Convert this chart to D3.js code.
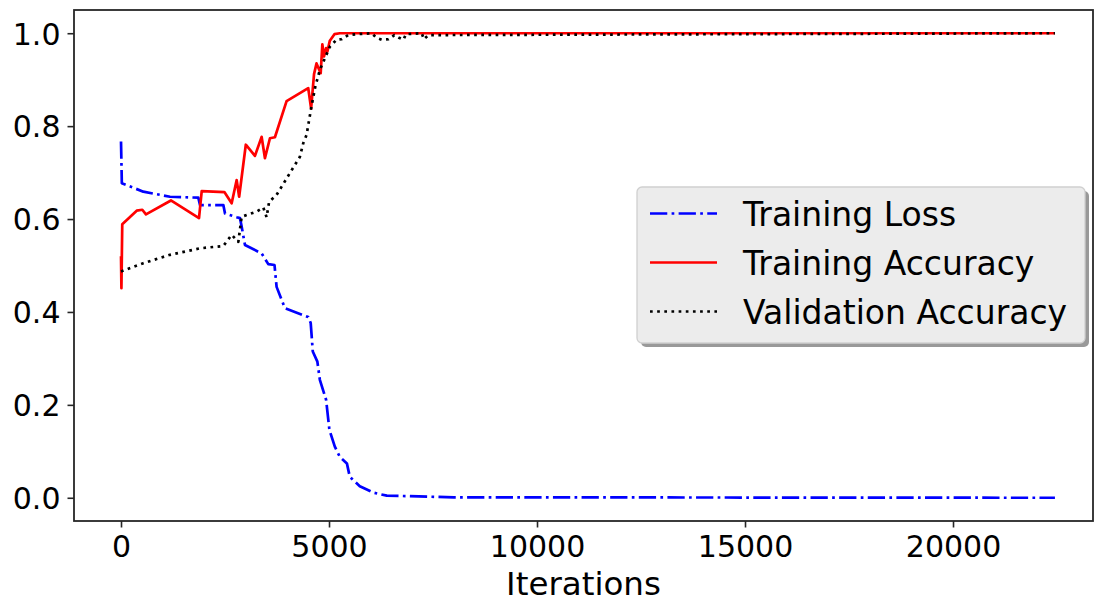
<!DOCTYPE html>
<html><head><meta charset="utf-8">
<script src="https://cdn.jsdelivr.net/npm/d3@7"></script>
<style>body{margin:0;background:#fff}svg{display:block}text{font-family:"DejaVu Sans",sans-serif}</style>
</head><body>
<script>
const seriesNames = ["Training Loss", "Training Accuracy", "Validation Accuracy"];
const lossIter = [0, 20, 536, 1178, 1858, 1900, 2460, 2500, 2780, 2860, 2900, 2980, 3380, 3540, 3690, 3740, 3940, 4500, 4560, 4610, 4720, 4780, 4930, 5010, 5140, 5260, 5430, 5500, 5740, 6070, 6390, 6710, 8000, 22450];
const lossVal = [0.767, 0.677, 0.659, 0.648, 0.646, 0.630, 0.630, 0.612, 0.604, 0.602, 0.584, 0.544, 0.526, 0.503, 0.501, 0.454, 0.408, 0.389, 0.376, 0.315, 0.293, 0.254, 0.211, 0.146, 0.110, 0.088, 0.074, 0.045, 0.025, 0.011, 0.0045, 0.004, 0.001, 0.0];
const accIter = [0, 10, 30, 377, 512, 600, 1200, 1875, 1940, 2485, 2660, 2780, 2840, 3000, 3220, 3380, 3460, 3580, 3700, 3980, 4500, 4570, 4640, 4700, 4800, 4840, 4880, 4930, 4960, 5020, 5130, 5260, 22450];
const accVal = [0.52, 0.451, 0.589, 0.618, 0.620, 0.610, 0.640, 0.602, 0.660, 0.658, 0.634, 0.684, 0.648, 0.760, 0.736, 0.777, 0.731, 0.774, 0.776, 0.854, 0.882, 0.838, 0.912, 0.935, 0.914, 0.976, 0.950, 0.968, 0.960, 0.984, 0.998, 1.0, 1.0];
const valIter = [0, 536, 1178, 1900, 2460, 2660, 2820, 2900, 3260, 3420, 3500, 3560, 3740, 4060, 4300, 4380, 4460, 4570, 4670, 4780, 4900, 5020, 5180, 5300, 5460, 5660, 6030, 6130, 6270, 6430, 6570, 6670, 6790, 6850, 7230, 7280, 7390, 22450];
const valVal = [0.487, 0.505, 0.523, 0.537, 0.542, 0.566, 0.551, 0.605, 0.616, 0.625, 0.604, 0.637, 0.652, 0.699, 0.734, 0.763, 0.781, 0.838, 0.885, 0.921, 0.946, 0.971, 0.986, 0.987, 0.996, 0.998, 1.0, 0.991, 0.986, 0.987, 0.996, 0.991, 0.986, 0.998, 1.0, 0.987, 0.996, 1.0];
const xTicks = [0, 5000, 10000, 15000, 20000];
const yTicks = [0.0, 0.2, 0.4, 0.6, 0.8, 1.0];
const xLabel = "Iterations";

const W = 1094, H = 602;
const L = 74, R = 1093, T = 10, B = 521;
const svg = d3.select("body").append("svg").attr("width", W).attr("height", H);
const x = d3.scaleLinear().domain([-1130, 23365]).range([L, R]);
const y = d3.scaleLinear().domain([-0.05, 1.05]).range([B, T]);

const lw = 2.7;
const styles = [
  {color: "#0000ff", dash: [6.4*lw, 1.6*lw, 1*lw, 1.6*lw].join(",")},
  {color: "#ff0000", dash: null},
  {color: "#000000", dash: [1*lw, 1.65*lw].join(",")}
];
const series = [
  d3.zip(lossIter, lossVal),
  d3.zip(accIter, accVal),
  d3.zip(valIter, valVal)
];
const line = d3.line().x(d => x(d[0])).y(d => y(d[1]));
svg.append("clipPath").attr("id","c").append("rect").attr("x",L).attr("y",T).attr("width",R-L).attr("height",B-T);
const g = svg.append("g").attr("clip-path","url(#c)");
series.forEach((s, i) => {
  g.append("path").attr("d", line(s)).attr("fill","none")
    .attr("stroke", styles[i].color).attr("stroke-width", lw)
    .attr("stroke-dasharray", styles[i].dash)
    .attr("stroke-linejoin","round").attr("stroke-linecap","butt");
});

// axes
const xAxis = d3.axisBottom(x).tickValues(xTicks).tickSize(6.5).tickPadding(8).tickFormat(d3.format("d"));
const yAxis = d3.axisLeft(y).tickValues(yTicks).tickSize(6.5).tickPadding(7).tickFormat(d3.format(".1f"));
const gx = svg.append("g").attr("transform", `translate(0,${B})`).call(xAxis);
const gy = svg.append("g").attr("transform", `translate(${L},0)`).call(yAxis);
[gx, gy].forEach(a => {
  a.select(".domain").remove();
  a.selectAll(".tick line").attr("stroke","#262626").attr("stroke-width",1.6);
  a.selectAll(".tick text").attr("font-size", 30).attr("fill","#000").attr("font-family","DejaVu Sans");
});
gy.selectAll(".tick text").attr("dy","0.36em");
svg.append("rect").attr("x",L).attr("y",T).attr("width",R-L).attr("height",B-T)
  .attr("fill","none").attr("stroke","#262626").attr("stroke-width",1.8);

svg.append("text").attr("x", (L+R)/2).attr("y", 595).attr("text-anchor","middle")
  .attr("font-size", 32.5).attr("fill","#000").text(xLabel);

// legend
const lg = svg.append("g");
const bx = 637, by = 187, bw = 448, bh = 156;
lg.append("rect").attr("x",bx+4).attr("y",by+4).attr("width",bw).attr("height",bh).attr("rx",5)
  .attr("fill","#999");
lg.append("rect").attr("x",bx).attr("y",by).attr("width",bw).attr("height",bh).attr("rx",5)
  .attr("fill","#ececec").attr("stroke","#d0d0d0").attr("stroke-width",1.3);
seriesNames.forEach((name, i) => {
  const cy = 213.5 + i*49;
  lg.append("line").attr("x1",650).attr("x2",717).attr("y1",cy).attr("y2",cy)
    .attr("stroke", styles[i].color).attr("stroke-width", lw).attr("stroke-dasharray", styles[i].dash);
  lg.append("text").attr("x",743).attr("y",cy+12.5).attr("font-size",33).attr("fill","#000").text(name);
});
</script>
</body></html>
